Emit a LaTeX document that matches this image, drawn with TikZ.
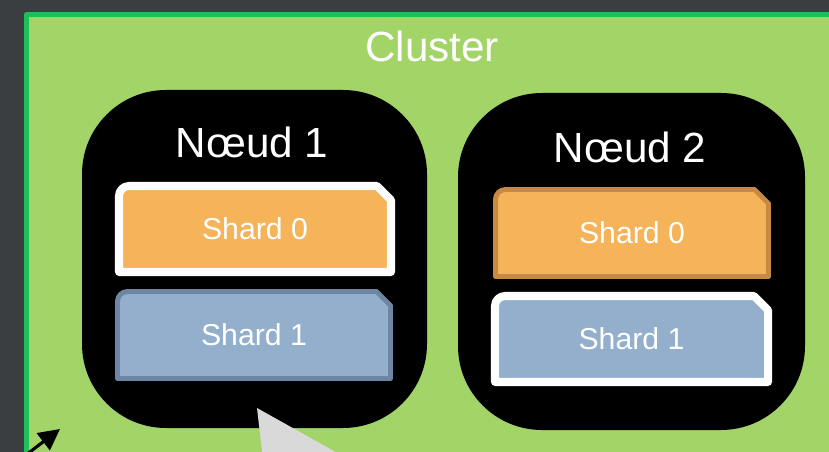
\documentclass[tikz,border=0pt]{standalone}
\usepackage{fontspec}
\setmainfont{Liberation Sans}
\usetikzlibrary{arrows.meta, calc}
\definecolor{cbg}{HTML}{3B3E41}
\definecolor{cgreen}{HTML}{A3D468}
\definecolor{cgreenline}{HTML}{1DBF5A}
\definecolor{corange}{HTML}{F5B35A}
\definecolor{corangeline}{HTML}{C68A42}
\definecolor{cblue}{HTML}{93AFCC}
\definecolor{cblueline}{HTML}{6D86A4}
\definecolor{cpointer}{HTML}{D9D9D9}
\tikzset{
  every picture/.style={x=0.025cm, y=-0.025cm, line join=round},
  nodebox/.style={fill=black, rounded corners=2.1cm},
  title/.style={text=white, font=\fontsize{30}{35}\selectfont},
  nodetitle/.style={text=white, font=\fontsize{30}{35}\selectfont},
  shardtext/.style={text=white, font=\fontsize{21.5}{25}\selectfont},
  whiteedge/.style={draw=white, line width=5.7pt},
  darkedge/.style={draw=#1, line width=3.5pt},
}
% shard: name, x1, y1, x2, y2, fill, edge style, text
\newcommand{\shardbox}[8]{%
  \path[fill=#6, #7] (#2,#5) -- (#2,#3+10) to[out=90, in=180] (#2+10,#3)
    -- (#4-14,#3) -- (#4,#3+14) -- (#4,#5) -- cycle;
  \node[shardtext] (#1) at ({(#2+#4)/2},{(#3+#5)/2}) {#8};
}

\begin{document}
\begin{tikzpicture}
  \useasboundingbox (0,0) rectangle (829,452);
  \clip (0,0) rectangle (829,452);
  \fill[cbg] (0,0) rectangle (829,452);
  % cluster
  \draw[draw=cgreenline, fill=cgreen, line width=3.5pt] (26.5,14.5) rectangle (860,480);
  \node[title] (cluster) at (432,46) {Cluster};
  % nodes
  \fill[nodebox] (82,90) rectangle (427,428);
  \fill[nodebox] (458,93) rectangle (805,430);
  \node[nodetitle] (n1) at (252,142) {Nœud 1};
  \node[nodetitle] (n2) at (630,147) {Nœud 2};
  \shardbox{n1s0}{119}{186}{391}{272}{corange}{whiteedge}{Shard 0}
  \shardbox{n1s1}{117.5}{291.5}{390.5}{378.5}{cblue}{darkedge=cblueline}{Shard 1}
  \shardbox{n2s0}{495.5}{189.5}{768.5}{276.5}{corange}{darkedge=corangeline}{Shard 0}
  \shardbox{n2s1}{495}{296}{768}{382}{cblue}{whiteedge}{Shard 1}
  % pointer and arrow
  \fill[cpointer] (257,408) -- (263,460) -- (350,460) -- cycle;
  \coordinate (arrowtail) at (18,461);
  \coordinate (arrowtip) at (60,429);
  \draw[-{Triangle[length=15pt, width=15pt]}, line width=2.2pt] (arrowtail) -- (arrowtip);
\end{tikzpicture}
\end{document}
